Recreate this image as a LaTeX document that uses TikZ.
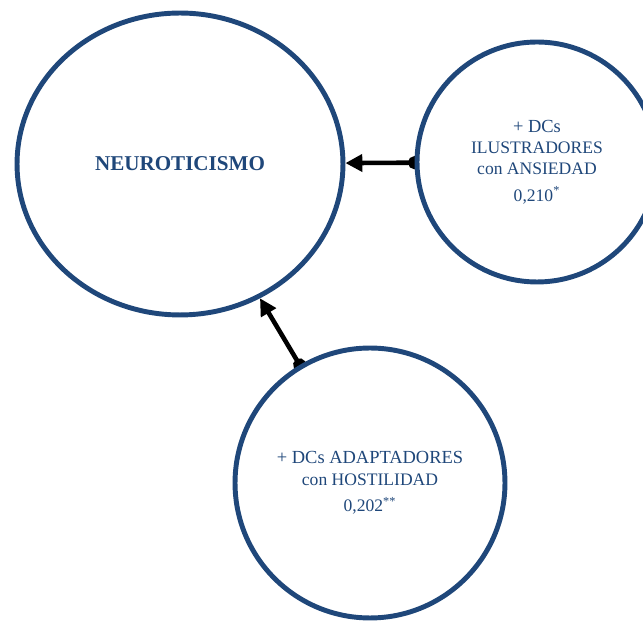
\documentclass[tikz,border=0pt]{standalone}
\usepackage{fontspec}
\setmainfont{Liberation Serif}
\usetikzlibrary{shapes.geometric, arrows.meta, backgrounds}
\definecolor{azul}{RGB}{31,71,122}
\tikzset{
	factor/.style={ellipse, draw=azul, line width=2.8pt, fill=white, text=azul, align=center, inner sep=0pt},
	flecha/.style={line width=2.6pt, {Circle[length=7.4pt]}-{Triangle[length=9.6pt,width=9.6pt]}, shorten <=-3.7pt}
}
\begin{document}
\begin{tikzpicture}[x=0.02cm, y=-0.02cm]
	\useasboundingbox (0,0) rectangle (643,624);
	\node (neuro)[factor, minimum width=6.52cm, minimum height=6.04cm] at (180,164) {\fontsize{12}{14}\selectfont\bfseries NEUROTICISMO};
	\node (ansiedad)[factor, minimum width=4.8cm, minimum height=4.8cm] at (537,162) {\fontsize{10.5}{10.9}\selectfont + DCs\\ ILUSTRADORES\\ con ANSIEDAD\\[3.1pt] 0,210\textsuperscript{*}};
	\node (hostil)[factor, minimum width=5.4cm, minimum height=5.4cm] at (370,483) {\fontsize{10.5}{10.9}\selectfont + DCs ADAPTADORES\\ con HOSTILIDAD\\[3.1pt] 0,202\textsuperscript{**}};
	\begin{scope}[on background layer]
		\draw[flecha] (ansiedad)--(neuro);
		\draw[flecha] (hostil)--(neuro);
	\end{scope}
\end{tikzpicture}
\end{document}
